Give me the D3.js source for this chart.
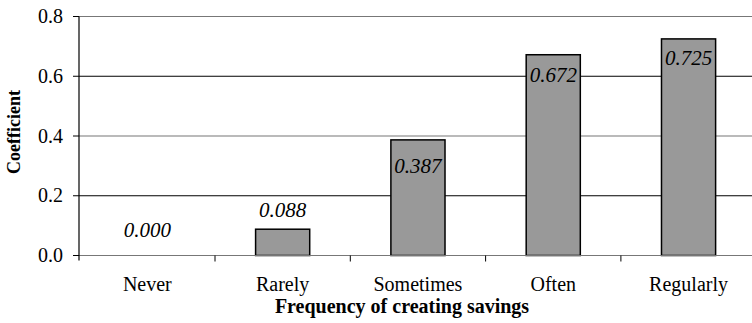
<!DOCTYPE html>
<html><head><meta charset="utf-8">
<script src="https://cdn.jsdelivr.net/npm/d3@7"></script>
<style>html,body{margin:0;padding:0;background:#fff;}svg{display:block;}</style>
</head><body>
<script>
const categories = ["Never", "Rarely", "Sometimes", "Often", "Regularly"];
const values = [0.000, 0.088, 0.387, 0.672, 0.725];
const valueLabels = ["0.000", "0.088", "0.387", "0.672", "0.725"];
const yTicks = [0, 0.2, 0.4, 0.6, 0.8];
const yTickLabels = ["0.0", "0.2", "0.4", "0.6", "0.8"];
const labelDy = [-19, -12.5, 33, 27, 26];

const W = 752, H = 323;
const svg = d3.select("body").append("svg").attr("width", W).attr("height", H);
const x = d3.scaleBand().domain(categories).range([79.7, 756.2]).paddingInner(0).paddingOuter(0);
const y = d3.scaleLinear().domain([0, 0.8]).range([255.5, 16.5]);
const font = "'Liberation Serif','Times New Roman',serif";

// gridlines
svg.append("g").selectAll("line").data(yTicks.slice(1)).join("line")
  .attr("x1", 79).attr("x2", W).attr("y1", d => y(d)).attr("y2", d => y(d))
  .attr("stroke", (d, i) => i % 2 === 0 ? "#000" : "#777").attr("stroke-width", 1.2);

// bars
const bw = x.bandwidth() / 2.5;
svg.append("g").selectAll("rect").data(values).join("rect")
  .attr("x", (d, i) => x(categories[i]) + (x.bandwidth() - bw) / 2)
  .attr("y", d => y(d)).attr("width", bw).attr("height", d => y(0) - y(d))
  .attr("fill", "#999999").attr("stroke", "#000").attr("stroke-width", 1.5)
  .style("display", d => d > 0 ? null : "none");

// x axis
const xa = svg.append("g").attr("transform", `translate(0,${y(0)})`);
xa.append("line").attr("x1", 73).attr("x2", W).attr("stroke", "#777").attr("stroke-width", 1.2);
xa.selectAll("line.t").data(categories.slice(1)).join("line").attr("class", "t")
  .attr("x1", d => x(d)).attr("x2", d => x(d)).attr("y1", 0).attr("y2", 6)
  .attr("stroke", "#000");
xa.selectAll("text").data(categories).join("text")
  .attr("x", d => x(d) + x.bandwidth() / 2).attr("y", 35)
  .attr("text-anchor", "middle").attr("font-family", font).attr("font-size", 20)
  .text(d => d);

// y axis
const ya = svg.append("g");
ya.append("line").attr("x1", 79).attr("x2", 79).attr("y1", y(0.8)).attr("y2", y(0) + 5)
  .attr("stroke", "#000").attr("stroke-width", 1.2);
ya.selectAll("line.t").data(yTicks).join("line").attr("class", "t")
  .attr("x1", 73).attr("x2", 79).attr("y1", d => y(d)).attr("y2", d => y(d))
  .attr("stroke", "#000");
ya.selectAll("text").data(yTicks).join("text")
  .attr("x", 63).attr("y", d => y(d) + 6.5)
  .attr("text-anchor", "end").attr("font-family", font).attr("font-size", 20)
  .text((d, i) => yTickLabels[i]);

// value labels
svg.append("g").selectAll("text").data(values).join("text")
  .attr("x", (d, i) => x(categories[i]) + x.bandwidth() / 2)
  .attr("y", (d, i) => y(d) + labelDy[i])
  .attr("text-anchor", "middle").attr("font-family", font).attr("font-style", "italic")
  .attr("font-size", 21).text((d, i) => valueLabels[i]);

// titles
svg.append("text").attr("x", 402).attr("y", 313).attr("text-anchor", "middle")
  .attr("font-family", font).attr("font-weight", "bold").attr("font-size", 20)
  .text("Frequency of creating savings");
svg.append("text").attr("transform", "translate(20,132) rotate(-90)").attr("text-anchor", "middle")
  .attr("font-family", font).attr("font-weight", "bold").attr("font-size", 18)
  .text("Coefficient");
</script>
</body></html>
